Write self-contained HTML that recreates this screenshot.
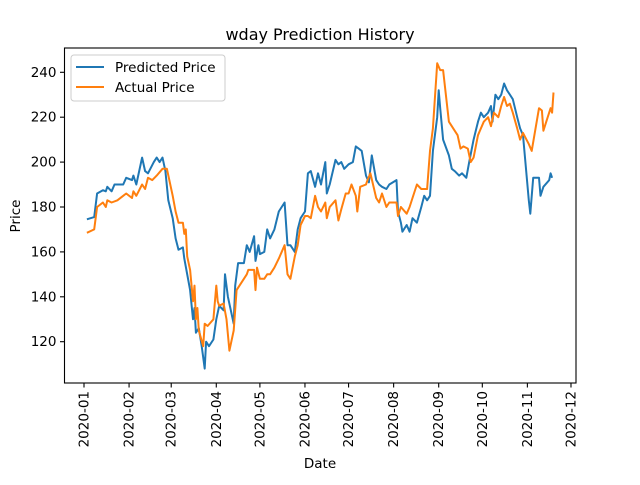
<!DOCTYPE html>
<html><head><meta charset="utf-8"><style>
body{margin:0;background:#fff}
svg text{font-family:"DejaVu Sans","Liberation Sans",sans-serif;fill:#000}
</style></head><body>
<svg id="c" width="640" height="480" xmlns="http://www.w3.org/2000/svg"></svg>
<script>
const predDates=["01-03","01-08","01-10","01-14","01-16","01-17","01-20","01-22","01-28","01-30","02-03","02-04","02-06","02-10","02-12","02-14","02-18","02-20","02-22","02-24","02-26","02-28","03-02","03-04","03-06","03-09","03-10","03-12","03-14","03-16","03-17","03-18","03-20","03-22","03-23","03-24","03-25","03-27","03-30","04-01","04-03","04-06","04-07","04-09","04-13","04-14","04-16","04-20","04-22","04-24","04-27","04-28","04-30","05-01","05-04","05-06","05-08","05-11","05-14","05-18","05-20","05-22","05-25","05-27","05-29","06-01","06-03","06-05","06-08","06-10","06-12","06-15","06-16","06-18","06-22","06-24","06-26","06-28","07-01","07-04","07-06","07-08","07-10","07-13","07-15","07-17","07-20","07-22","07-24","07-27","07-29","08-03","08-04","08-06","08-07","08-10","08-12","08-14","08-17","08-20","08-22","08-24","08-26","08-28","08-31","09-01","09-02","09-04","09-08","09-10","09-12","09-15","09-17","09-20","09-22","09-25","09-28","09-30","10-02","10-05","10-07","10-08","10-10","10-12","10-14","10-16","10-18","10-20","10-22","10-25","10-27","10-29","11-02","11-03","11-05","11-09","11-10","11-12","11-16","11-17","11-18"];
const predValues=[174.5,175.5,186,187.5,187,189,187,190,190,193,192,194,190,202,196,195,200,202,200,202,196,183,175,166,161,162,157,150,143,130,135,124,126,118,113,108,120,118,121,130,136,134,150,140,128,145,155,155,163,160,167,156,163,159,160,170,166,170,178,182,163,163,160,170,175,178,195,196,189,195,190,200,186,190,201,199,200,197,199,200,207,206,205,194,191,203,192,190,189,188,190,192,178,173,169,172,169,175,173,180,185,183,185,205,220,232,224,210,203,197,196,194,195,193,200,210,218,222,220,222,225,218,230,228,230,235,232,230,228,220,215,212,183,177,193,193,185,189,192,195,193];
const actDates=["01-03","01-08","01-10","01-14","01-16","01-17","01-20","01-24","01-28","01-30","02-03","02-04","02-06","02-10","02-12","02-14","02-17","02-20","02-24","02-27","03-02","03-04","03-06","03-09","03-10","03-11","03-12","03-14","03-16","03-17","03-18","03-19","03-20","03-23","03-24","03-26","03-30","04-01","04-02","04-03","04-06","04-08","04-10","04-13","04-15","04-20","04-22","04-23","04-27","04-28","04-29","05-01","05-04","05-06","05-08","05-11","05-14","05-18","05-20","05-22","05-25","05-27","05-29","06-01","06-03","06-05","06-08","06-10","06-12","06-15","06-16","06-18","06-22","06-24","06-26","06-29","07-01","07-03","07-06","07-07","07-09","07-13","07-14","07-16","07-20","07-22","07-24","07-27","07-29","08-03","08-04","08-06","08-10","08-12","08-14","08-17","08-20","08-24","08-26","08-28","08-31","09-02","09-04","09-08","09-10","09-14","09-16","09-18","09-21","09-23","09-25","09-28","09-30","10-02","10-05","10-07","10-09","10-12","10-14","10-16","10-18","10-20","10-22","10-25","10-27","10-29","11-02","11-04","11-09","11-11","11-12","11-15","11-17","11-18","11-19"];
const actValues=[168.5,170,180,182,180,183,182,183,185,186,184,187,185,190,188,193,192,194,197,197,185,178,173,173,168,170,158,152,138,145,130,135,125,118,128,127,130,145,138,136,137,130,116,125,143,148,150,152,152,143,153,148,148,150,150,153,157,163,150,148,158,163,172,176,176,175,185,180,178,182,175,180,183,174,179,186,186,190,185,178,189,190,192,195,184,182,186,180,182,182,176,180,177,180,184,190,188,188,205,215,244,241,241,218,216,212,206,207,206,200,202,212,215,218,220,216,222,220,225,229,225,226,222,215,210,213,208,205,224,223,214,220,224,222,231];
const yTicks=[120,140,160,180,200,220,240];
const xTicks=["2020-01","2020-02","2020-03","2020-04","2020-05","2020-06","2020-07","2020-08","2020-09","2020-10","2020-11","2020-12"];

const NS="http://www.w3.org/2000/svg",svg=document.getElementById('c');
const L=64.5,R=576,T=48,B=383;
const d0=Date.UTC(2020,0,1);
function dayOf(s){return (Date.parse(s+"T00:00:00Z")-d0)/864e5;}
function xs(day){return 84+day*1.4537;}
function ys(v){return 341.7-(v-120)*2.245;}
function mk(tag,attrs,parent){const e=document.createElementNS(NS,tag);for(const k in attrs)e.setAttribute(k,attrs[k]);(parent||svg).appendChild(e);return e;}
function line(dates,vals,color,name){
  const pts=dates.map((d,i)=>xs(dayOf("2020-"+d)).toFixed(1)+","+ys(vals[i]).toFixed(1)).join(" ");
  const p=mk('polyline',{points:pts,fill:'none',stroke:color,'stroke-width':2,'stroke-linejoin':'round'});
  
  
}
line(predDates,predValues,'#1f77b4','predicted-price-line');
line(actDates,actValues,'#ff7f0e','actual-price-line');
const frame=mk('rect',{x:L,y:T,width:R-L,height:B-T,fill:'none',stroke:'#000','stroke-width':1.1});


yTicks.forEach(v=>{
  const y=ys(v);
  mk('line',{x1:L-4.5,x2:L,y1:y,y2:y,stroke:'#000','stroke-width':1.1});
  const t=mk('text',{x:L-8,y:y+4.5,'text-anchor':'end','font-size':13.5});
  t.textContent=v;
  
  
});
xTicks.forEach(s=>{
  const x=xs(dayOf(s+"-01"));
  mk('line',{x1:x,x2:x,y1:B,y2:B+4.5,stroke:'#000','stroke-width':1.1});
  const t=mk('text',{x:0,y:0,'text-anchor':'end','font-size':13.5,transform:`translate(${x+4.5},${B+8}) rotate(-90)`});
  t.textContent=s;
  
  
});
</script>
<svg style="position:absolute;left:0;top:0" width="640" height="480">
<text x="320" y="40" text-anchor="middle" font-size="16">wday Prediction History</text>
<text x="320" y="468" text-anchor="middle" font-size="13.5">Date</text>
<text x="0" y="0" transform="translate(20,216) rotate(-90)" text-anchor="middle" font-size="13.5">Price</text>
<g>
<rect x="71" y="55" width="154" height="46" rx="3" fill="#fff" fill-opacity="0.8" stroke="#ccc"/>
<line x1="76" x2="104" y1="67" y2="67" stroke="#1f77b4" stroke-width="2"/>
<text x="115" y="72" font-size="13.5">Predicted Price</text>
<line x1="76" x2="104" y1="87" y2="87" stroke="#ff7f0e" stroke-width="2"/>
<text x="115" y="92" font-size="13.5">Actual Price</text>
</g>
</svg>
</body></html>
